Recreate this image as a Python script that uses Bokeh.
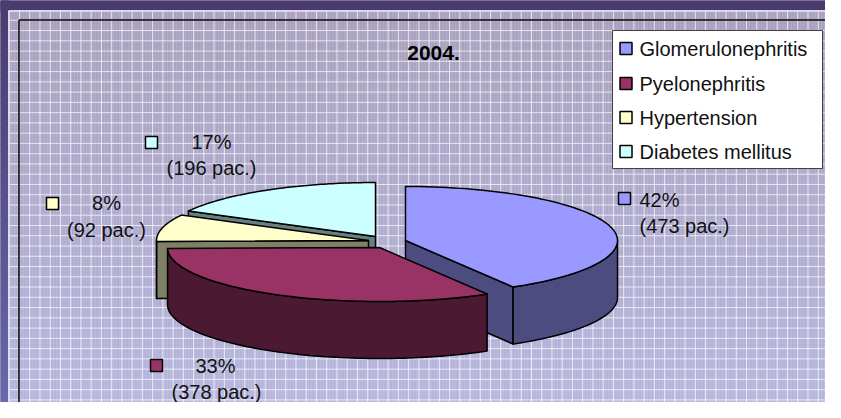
import numpy as np
from bokeh.plotting import figure
from bokeh.models import Range1d
from bokeh.core.properties import value
from bokeh.embed import file_html
from bokeh.resources import INLINE

# ---------------- data ----------------
categories = ["Glomerulonephritis", "Pyelonephritis", "Hypertension", "Diabetes mellitus"]
patients = [473, 378, 92, 196]
percent_labels = ["42%", "33%", "8%", "17%"]
count_labels = ["(473 pac.)", "(378 pac.)", "(92 pac.)", "(196 pac.)"]
title_text = "2004."

# ---------------- style / layout ----------------
top_colors = ["#9999ff", "#993366", "#ffffcc", "#ccffff"]
side_colors = ["#4c4c80", "#4c1933", "#808066", "#668080"]
FONT = value("Liberation Sans")

W, H = 825, 402
p = figure(width=W, height=H, output_backend="svg", toolbar_location=None,
           x_range=Range1d(0, W), y_range=Range1d(H, 0),
           x_axis_location=None, y_axis_location=None, min_border=0,
           min_border_left=0, min_border_right=0, min_border_top=0, min_border_bottom=0)
p.grid.visible = False
p.outline_line_color = None
p.background_fill_color = "#aea8c8"
p.border_fill_color = "#4a3c70"

# slide background (dark band on top, bluish band on the left)
p.quad(left=0, right=W, top=0, bottom=10, color="#4a3a6e")
lb = np.arange(0, H, 6)
lcols = []
for yy in lb:
    t = yy / H
    c = (np.array([74, 60, 112]) * (1 - t) + np.array([104, 104, 170]) * t).astype(int)
    lcols.append("#%02x%02x%02x" % tuple(c))
p.quad(left=0, right=8, top=lb, bottom=lb + 6, color=lcols)

# chart area gradient
c_top = np.array([169, 161, 191])
c_bot = np.array([182, 182, 222])
strip = 4
ys = np.arange(10, H, strip)
cols = []
for yy in ys:
    t = (yy - 10) / (H - 10)
    c = (c_top * (1 - t) + c_bot * t).astype(int)
    cols.append("#%02x%02x%02x" % tuple(c))
p.quad(left=8, right=W, top=ys, bottom=ys + strip, color=cols)
# faint texture
p.quad(left=8, right=W, top=10, bottom=H, fill_alpha=0, line_alpha=0,
       hatch_pattern=":", hatch_color="#ffffff", hatch_alpha=0.12, hatch_scale=3)

# white grid lines
gx = np.arange(19.0, W, 10.24)
gy = np.arange(19.8, H, 10.26)
p.segment(x0=gx, y0=10, x1=gx, y1=H, line_color="#ffffff", line_alpha=0.7, line_width=1)
p.segment(x0=8, y0=gy, x1=W, y1=gy, line_color="#ffffff", line_alpha=0.7, line_width=1)

# chart image border and black frame
p.segment(x0=[8.5, 8.5], y0=[10.5, 10.5], x1=[8.5, W], y1=[H, 10.5],
          line_color="#e8e8f4", line_width=1.5)
p.segment(x0=[18.5, 18.5], y0=[19.5, 19.5], x1=[18.5, W], y1=[H, 19.5],
          line_color="#000000", line_width=1.5)

# ---------------- 3D exploded pie ----------------
A, B, DEPTH = 212, 54, 57
centers = [(405, 240), (379, 247), (368, 240), (375, 236)]

total = float(sum(patients))
cum = np.concatenate([[0], np.cumsum(patients)]) / total
t_start = np.radians(90 - 360 * cum[:-1])   # larger math angle
t_end = np.radians(90 - 360 * cum[1:])      # smaller math angle


def arc(cx, cy, t1, t2, n=80, dy=0.0):
    t = np.linspace(t1, t2, n)
    return list(cx + A * np.cos(t)), list(cy - B * np.sin(t) + dy)


xs_all, ys_all, fills = [], [], []
order = [3, 2, 0, 1]
for i in order:
    cx, cy = centers[i]
    ts, te = t_start[i], t_end[i]
    # visible radial cut faces
    for t, vis in ((ts, np.cos(ts) < -1e-6), (te, np.cos(te) > 1e-6)):
        if vis:
            ex, ey = cx + A * np.cos(t), cy - B * np.sin(t)
            xs_all.append([cx, ex, ex, cx])
            ys_all.append([cy, ey, ey + DEPTH, cy + DEPTH])
            fills.append(side_colors[i])
    # outer curved wall (front half only)
    lo, hi = max(te, -np.pi), min(ts, 0.0)
    if hi - lo > 1e-6:
        ax, ay = arc(cx, cy, lo, hi)
        bx, by = arc(cx, cy, hi, lo, dy=DEPTH)
        xs_all.append(ax + bx)
        ys_all.append(ay + by)
        fills.append(side_colors[i])
    # top face
    tx, ty = arc(cx, cy, te, ts)
    xs_all.append([cx] + tx)
    ys_all.append([cy] + ty)
    fills.append(top_colors[i])

p.patches(xs=xs_all, ys=ys_all, fill_color=fills, line_color="#000000",
          line_width=1.5, line_join="round")

# ---------------- data labels ----------------
mark_x = [624, 156, 52, 151]
mark_y = [198, 365, 203, 142]
pct_x = [659, 215, 106, 211]
pct_y = [199, 365, 202, 141]
cnt_x = [684, 216, 106, 211]
cnt_y = [225, 391, 229, 167]
p.scatter(x=mark_x, y=mark_y, marker="square", size=12, fill_color=top_colors,
          line_color="#000000", line_width=1.5)
p.text(x=pct_x, y=pct_y, text=percent_labels, text_font=FONT, text_font_size="20px",
       text_color="#111111", text_align="center", text_baseline="middle")
p.text(x=cnt_x, y=cnt_y, text=count_labels, text_font=FONT, text_font_size="20px",
       text_color="#111111", text_align="center", text_baseline="middle")

# ---------------- title ----------------
p.text(x=[433], y=[52], text=[title_text], text_font=FONT, text_font_size="21px",
       text_font_style="bold", text_color="#000000", text_align="center",
       text_baseline="middle")

# ---------------- legend ----------------
p.quad(left=612, right=822, top=30, bottom=168, fill_color="#ffffff",
       line_color="#404040", line_width=1)
leg_y = [48, 83, 117, 151]
p.scatter(x=[625.5] * 4, y=leg_y, marker="square", size=12, fill_color=top_colors,
          line_color="#000000", line_width=1.5)
p.text(x=[639] * 4, y=leg_y, text=categories, text_font=FONT, text_font_size="20px",
       text_color="#111111", text_align="left", text_baseline="middle")

open("out.html", "w").write(file_html(p, INLINE))
